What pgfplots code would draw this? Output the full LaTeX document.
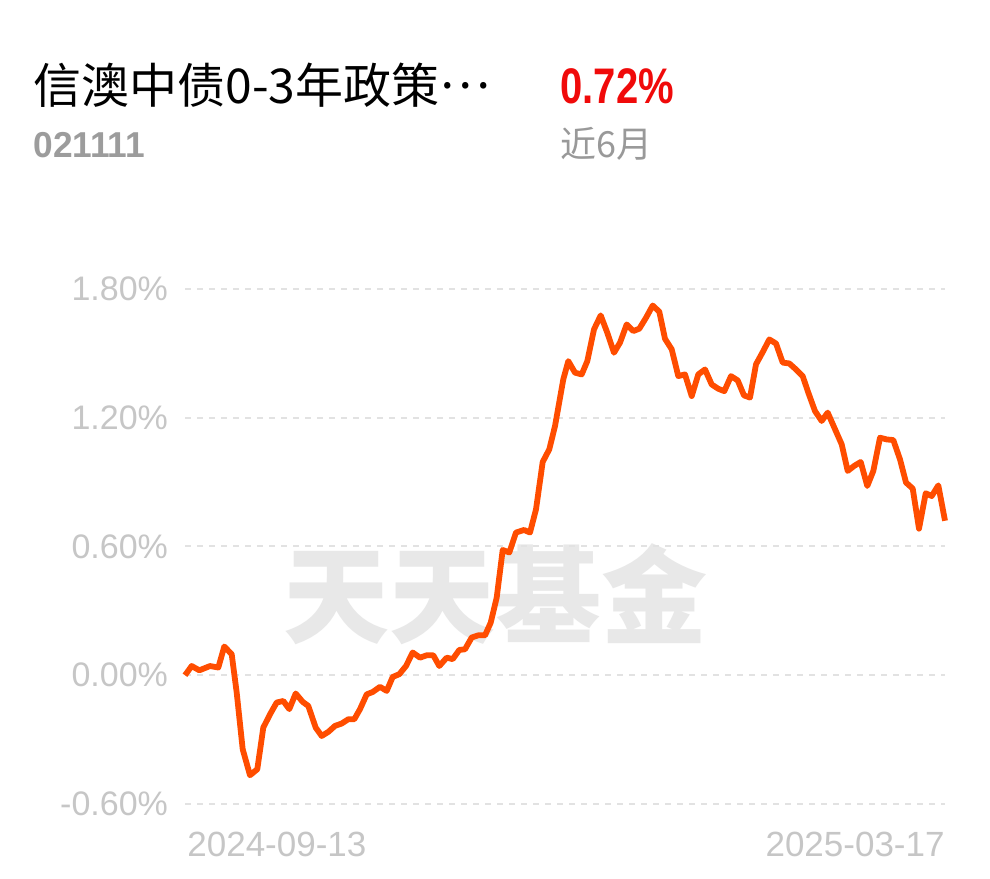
\documentclass[border=0pt]{standalone}
\usepackage{pgfplots}
\pgfplotsset{compat=1.18}
\usepackage{graphicx}
\usepackage{fontspec}
\setmainfont{Liberation Sans}
\newfontfamily\cjk{Noto Sans CJK SC}
\definecolor{lineor}{HTML}{FF4D00}
\definecolor{tickgray}{HTML}{C6C6C6}
\definecolor{gridgray}{HTML}{E2E2E2}
\definecolor{wmgray}{HTML}{E8E8E8}
\definecolor{myred}{HTML}{F00A0A}
\definecolor{codegray}{HTML}{9C9C9C}
\definecolor{subgray}{HTML}{999999}
\pgfplotstableread{
x v
185 0.000
191.7 0.043
199.3 0.023
210 0.043
218.3 0.036
224.3 0.134
231.7 0.098
236.7 -0.081
242.7 -0.345
250 -0.466
257.3 -0.438
263.3 -0.244
270 -0.182
276.7 -0.127
283.3 -0.120
289.3 -0.158
295.7 -0.085
302.7 -0.124
308.3 -0.143
315.7 -0.244
321.7 -0.283
328.3 -0.264
335 -0.236
341.7 -0.225
348.3 -0.205
354.3 -0.205
360 -0.158
366.7 -0.089
372.7 -0.078
380 -0.054
386.7 -0.073
392.7 -0.008
399.3 0.005
406 0.043
412.7 0.106
420 0.082
426.7 0.093
433.3 0.093
439.3 0.043
446.7 0.082
452.7 0.075
459.3 0.118
465 0.121
471.7 0.176
478.3 0.186
485 0.186
490.7 0.245
496.7 0.362
502.7 0.584
509.3 0.572
516 0.665
524 0.677
530 0.665
536 0.773
542.7 0.994
549.3 1.053
555 1.161
563.3 1.379
568.3 1.464
575 1.410
581.7 1.402
587.3 1.464
594 1.612
600.7 1.677
607.3 1.596
614 1.503
620 1.550
626.7 1.635
633.3 1.604
639.3 1.615
646 1.666
652.7 1.723
659.3 1.694
665 1.568
671.7 1.519
678.3 1.394
685 1.402
691.7 1.301
698.3 1.402
705 1.425
711.7 1.355
718.3 1.335
724.3 1.324
731 1.394
737.7 1.374
744 1.304
750 1.294
756 1.449
762.7 1.506
769.3 1.565
776 1.546
782.7 1.457
789.3 1.453
796 1.425
802.7 1.394
808.3 1.317
815 1.231
821.7 1.185
827.7 1.224
834.3 1.154
841.7 1.076
847.7 0.952
854 0.975
860.7 0.994
867.3 0.882
873.3 0.952
880 1.107
886.7 1.099
893.3 1.096
900 1.006
906 0.898
912.7 0.870
919 0.683
925.7 0.848
931.7 0.835
938.3 0.885
945 0.720
}\navdata
\begin{document}
\begin{tikzpicture}
\path[use as bounding box, fill=white] (0,0) rectangle (495pt,439pt);
% header
\node[anchor=base west, inner sep=0pt, font=\cjk\fontsize{24pt}{28pt}\selectfont] at (16.5pt,387pt) {信澳中债0-3年政策\raisebox{0.32em}{…}};
\node[anchor=base west, inner sep=0pt, text=myred, font=\bfseries\fontsize{25pt}{30pt}\selectfont] at (280pt,387pt) {\scalebox{0.8}[1]{0.72\%}};
\node[anchor=base west, inner sep=0pt, text=codegray, font=\bfseries\fontsize{18pt}{21pt}\selectfont] at (16.5pt,360pt) {\scalebox{0.98}[1]{021111}};
\node[anchor=base west, inner sep=0pt, text=subgray, font=\cjk\fontsize{18pt}{22pt}\selectfont] at (280pt,360pt) {近6月};
% watermark
\node[inner sep=0pt, text=wmgray, font=\cjk\bfseries\fontsize{53pt}{60pt}\selectfont] at (247.5pt,142pt) {天天基金};
\begin{axis}[
  at={(92.5pt,37pt)}, anchor=south west,
  scale only axis, width=380pt, height=257.5pt,
  xmin=185, xmax=945, ymin=-0.6, ymax=1.8,
  axis line style={draw=none},
  ytick={-0.6,0,0.6,1.2,1.8},
  yticklabels={-0.60\%,0.00\%,0.60\%,1.20\%,1.80\%},
  xtick=\empty,
  major tick length=0pt,
  ymajorgrids,
  grid style={gridgray, line width=1pt, dash pattern=on 3pt off 3pt},
  yticklabel style={text=tickgray, font=\fontsize{17pt}{20pt}\selectfont, xshift=-5pt},
  clip=false,
]
\addplot[lineor, line width=2.9pt, line join=round] table[x=x,y=v] {\navdata};
\node[anchor=north west, inner sep=0pt, text=tickgray, font=\fontsize{17.5pt}{21pt}\selectfont] at (rel axis cs:0,0) [yshift=-14pt, xshift=1pt] {2024-09-13};
\node[anchor=north east, inner sep=0pt, text=tickgray, font=\fontsize{17.5pt}{21pt}\selectfont] at (rel axis cs:1,0) [yshift=-14pt] {2025-03-17};
\end{axis}
\end{tikzpicture}
\end{document}
